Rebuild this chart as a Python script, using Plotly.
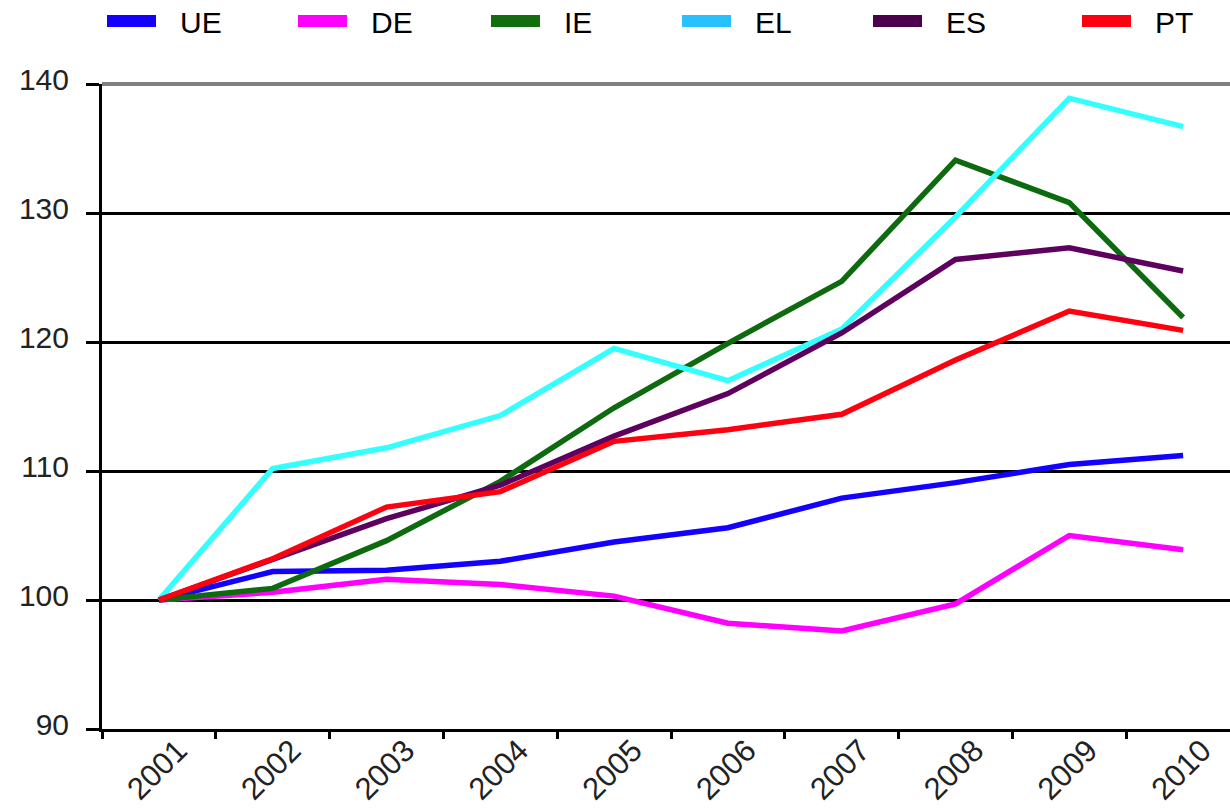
import plotly.graph_objects as go

years = ["2001", "2002", "2003", "2004", "2005", "2006", "2007", "2008", "2009", "2010"]

ue = [100.0, 102.2, 102.3, 103.0, 104.5, 105.6, 107.9, 109.1, 110.5, 111.2]
de = [100.0, 100.6, 101.6, 101.2, 100.3, 98.2, 97.6, 99.7, 105.0, 103.9]
ie = [100.0, 100.9, 104.6, 109.2, 114.9, 119.9, 124.7, 134.1, 130.8, 121.9]
el = [100.0, 110.2, 111.8, 114.3, 119.5, 117.0, 121.0, 129.7, 138.9, 136.7]
es = [100.0, 103.1, 106.3, 108.9, 112.7, 116.0, 120.7, 126.4, 127.3, 125.5]
pt = [100.0, 103.2, 107.2, 108.4, 112.3, 113.2, 114.4, 118.6, 122.4, 120.9]

names = ["UE", "DE", "IE", "EL", "ES", "PT"]
values = [ue, de, ie, el, es, pt]
line_colors = ["#1400FF", "#FF00FF", "#0E6A0E", "#33FFFF", "#5E005E", "#FF0010"]
legend_colors = ["#1400FF", "#FF00FF", "#116E0E", "#29C0FF", "#4D004D", "#FF0010"]

y_ticks = [90, 100, 110, 120, 130, 140]

# layout geometry (pixels)
W, H = 1230, 811
ML, MT, MB = 102, 84, 82
PW, PH = W - ML, H - MT - MB

def px_x(p):
    return (p - ML) / PW

def px_y(p):
    return (H - MB - p) / PH

# legend entry layout (pixel positions of swatches and labels)
leg_swatch_left = [107, 298, 491, 682, 873, 1082]
leg_swatch_len = 49
leg_text_gap = 22
leg_y_top, leg_y_bot, leg_text_y = 15, 27, 22.5

fig = go.Figure()
for name, vals, col in zip(names, values, line_colors):
    fig.add_trace(go.Scatter(
        x=years, y=vals, name=name, mode="lines",
        line=dict(color=col, width=5.5),
        showlegend=False,
    ))

shapes = [dict(
    type="line", xref="paper", yref="paper", x0=0, x1=1, y0=1, y1=1,
    line=dict(color="#808080", width=4), layer="above",
)]
annotations = []
for name, col, left in zip(names, legend_colors, leg_swatch_left):
    shapes.append(dict(
        type="rect", xref="paper", yref="paper",
        x0=px_x(left), x1=px_x(left + leg_swatch_len),
        y0=px_y(leg_y_bot), y1=px_y(leg_y_top),
        fillcolor=col, line=dict(width=0),
    ))
    annotations.append(dict(
        text=name, xref="paper", yref="paper",
        x=px_x(left + leg_swatch_len + leg_text_gap), y=px_y(leg_text_y),
        xanchor="left", yanchor="middle", showarrow=False,
        font=dict(size=30, color="#000000"),
    ))

font_family = "Liberation Sans, Arial, sans-serif"

fig.update_layout(
    width=W, height=H,
    margin=dict(l=ML, r=0, t=MT, b=MB, autoexpand=False),
    plot_bgcolor="white", paper_bgcolor="white",
    font=dict(family=font_family, size=29, color="#222222"),
    showlegend=False,
    hovermode=False,
    xaxis=dict(
        type="category",
        range=[-0.5, 9.412],
        automargin=False,
        showgrid=False,
        showline=True, linecolor="black", linewidth=3,
        ticks="outside", tickson="boundaries", ticklen=7, tickwidth=3, tickcolor="black",
        tickangle=-45,
        tickfont=dict(size=31, color="#222222"),
        ticklabelshift=19,
        ticklabelstandoff=-12,
    ),
    yaxis=dict(
        range=[90, 140],
        automargin=False,
        tickvals=y_ticks,
        showgrid=True, gridcolor="black", gridwidth=3,
        zeroline=False,
        showline=True, linecolor="black", linewidth=3,
        ticks="outside", ticklen=13, tickwidth=3, tickcolor="black",
        tickfont=dict(size=30, color="#222222"),
        ticklabelstandoff=11,
        ticklabelshift=-5,
    ),
    shapes=shapes,
    annotations=annotations,
)

fig.write_html(
    "out.html",
    config={"displayModeBar": False, "staticPlot": True},
    post_script="document.body.style.margin='0';document.body.style.padding='0';document.body.style.overflow='hidden';",
)
